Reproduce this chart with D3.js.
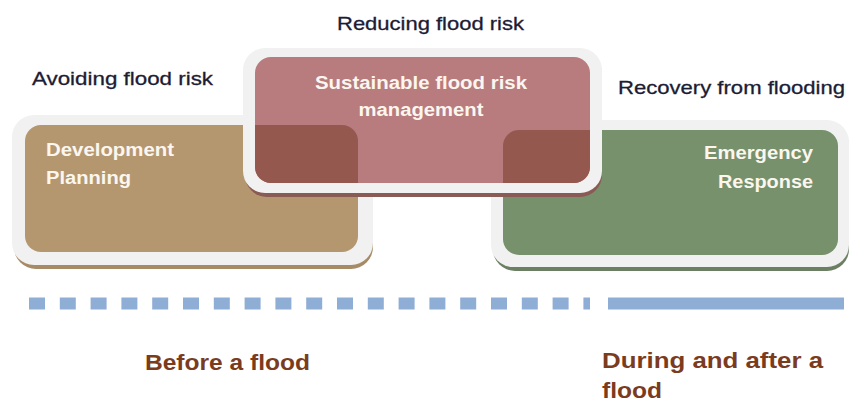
<html>
<head>
    <title>Flood risk</title>
    <style>
        body { margin: 0; background: #fff; }
        #chart { width: 849px; height: 403px; }
        text { font-family: "Liberation Sans", Arial, sans-serif; }
    </style>
</head>
<body>
<div id="chart"></div>
<script src="https://d3js.org/d3.v7.min.js"></script>
<script>

  const width = 849;
  const height = 403;

  // data
  const stages = ['Avoiding flood risk', 'Reducing flood risk', 'Recovery from flooding'];
  const boxLines = [
    ['Development', 'Planning'],
    ['Sustainable flood risk', 'management'],
    ['Emergency', 'Response']
  ];
  const phaseLines = [['Before a flood'], ['During and after a', 'flood']];

  // layout (pixels)
  const boxes = [
    {outer: [12, 115, 361, 150], inner: [25, 125, 333, 127], fill: '#b5976f', shadow: '#a78a66'},
    {outer: [243, 48, 359, 145], inner: [255, 57, 335, 126], fill: '#b87b7e', shadow: '#8a5a55'},
    {outer: [491, 120, 358, 147], inner: [503, 130, 335, 125], fill: '#76916b', shadow: '#6c7f63'}
  ];
  const stagePos = [[32, 85, 181], [337, 30, 187], [618, 94, 227]];
  const boxTextPos = [
    {x: 46, y: [156, 184], anchor: 'start', w: [128, 85]},
    {x: 421, y: [89, 116], anchor: 'middle', w: [212, 125]},
    {x: 813, y: [159, 188], anchor: 'end', w: [109, 95]}
  ];
  const phasePos = [{x: 145, y: [370], w: [165]}, {x: 602, y: [368, 398], w: [221, 60]}];

  const svg = d3.select('#chart')
    .append('svg')
    .attr('width', width)
    .attr('height', height)

  const defs = svg.append('defs')
  defs.append('clipPath').attr('id', 'clipMid')
    .append('rect')
    .attr('x', boxes[1].inner[0]).attr('y', boxes[1].inner[1])
    .attr('width', boxes[1].inner[2]).attr('height', boxes[1].inner[3])
    .attr('rx', 16)

  function drawBox(b) {
    const g = svg.append('g')
    // shadow
    g.append('rect')
      .attr('x', b.outer[0] + 2).attr('y', b.outer[1] + 4)
      .attr('width', b.outer[2] - 2).attr('height', b.outer[3])
      .attr('rx', 22).attr('fill', b.shadow)
    g.append('rect')
      .attr('x', b.outer[0]).attr('y', b.outer[1])
      .attr('width', b.outer[2]).attr('height', b.outer[3])
      .attr('rx', 22).attr('fill', '#f1f1f1')
    g.append('rect')
      .attr('x', b.inner[0]).attr('y', b.inner[1])
      .attr('width', b.inner[2]).attr('height', b.inner[3])
      .attr('rx', 16).attr('fill', b.fill)
  }

  drawBox(boxes[0])
  drawBox(boxes[2])
  drawBox(boxes[1])

  // overlaps, seen through the middle box
  ;[boxes[0], boxes[2]].forEach(b => {
    svg.append('rect')
      .attr('clip-path', 'url(#clipMid)')
      .attr('x', b.inner[0]).attr('y', b.inner[1])
      .attr('width', b.inner[2]).attr('height', b.inner[3])
      .attr('rx', 16).attr('fill', '#95584f')
  })

  // box labels
  boxLines.forEach((lines, i) => {
    const p = boxTextPos[i]
    lines.forEach((t, j) => {
      svg.append('text')
        .attr('x', p.x).attr('y', p.y[j])
        .attr('text-anchor', p.anchor)
        .attr('font-size', 18).attr('font-weight', 'bold')
        .attr('fill', '#fbf6ee')
        .attr('textLength', p.w[j]).attr('lengthAdjust', 'spacingAndGlyphs')
        .text(t)
    })
  })

  // stage labels
  stages.forEach((t, i) => {
    const p = stagePos[i]
    svg.append('text')
      .attr('x', p[0]).attr('y', p[1])
      .attr('font-size', 19)
      .attr('fill', '#1c1c34')
      .attr('stroke', '#1c1c34').attr('stroke-width', 0.3)
      .attr('textLength', p[2]).attr('lengthAdjust', 'spacingAndGlyphs')
      .text(t)
  })

  // timeline
  const x = d3.scaleLinear().domain([0, 1]).range([29, 844])
  svg.append('line')
    .attr('x1', x(0)).attr('x2', 590)
    .attr('y1', 303.5).attr('y2', 303.5)
    .attr('stroke', '#8faed5').attr('stroke-width', 12)
    .attr('stroke-dasharray', '16 14.8')
  svg.append('line')
    .attr('x1', 608).attr('x2', x(1))
    .attr('y1', 303.5).attr('y2', 303.5)
    .attr('stroke', '#8faed5').attr('stroke-width', 12)

  // phase labels
  phaseLines.forEach((lines, i) => {
    const p = phasePos[i]
    lines.forEach((t, j) => {
      svg.append('text')
        .attr('x', p.x).attr('y', p.y[j])
        .attr('font-size', 22).attr('font-weight', 'bold')
        .attr('fill', '#7b3b1e')
        .attr('textLength', p.w[j]).attr('lengthAdjust', 'spacingAndGlyphs')
        .text(t)
    })
  })

</script>
</body>
</html>
